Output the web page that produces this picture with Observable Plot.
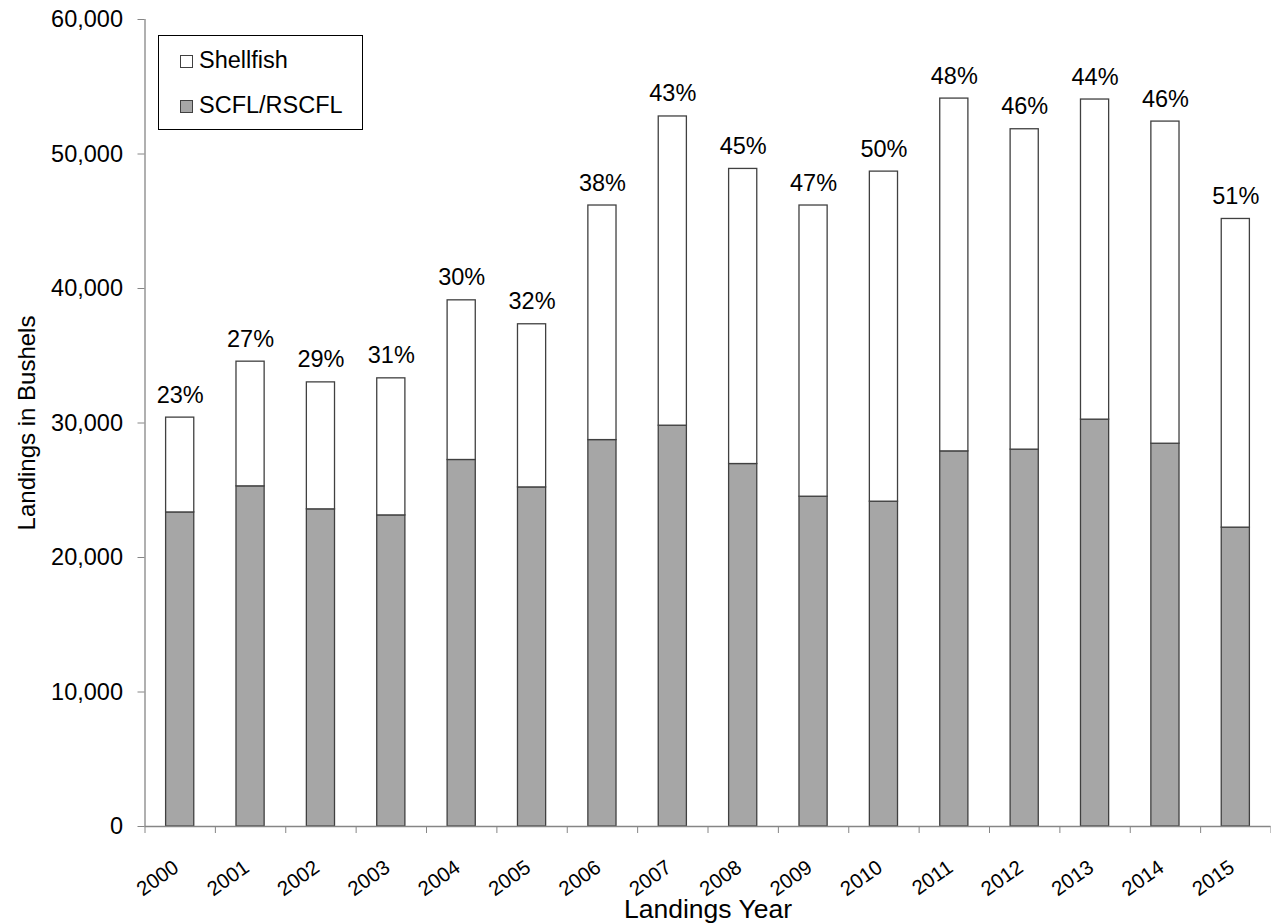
<!DOCTYPE html>
<html>
<head>
<meta charset="utf-8">
<script src="https://cdn.jsdelivr.net/npm/d3@7"></script>
<script src="https://cdn.jsdelivr.net/npm/@observablehq/plot@0.6"></script>
<style>
  html, body { margin: 0; padding: 0; background: #fff; }
  #wrap { position: relative; width: 1271px; height: 924px; font-family: "Liberation Sans", Arial, sans-serif; }
  #legend { position: absolute; left: 158px; top: 35px; width: 203px; height: 93px; border: 1px solid #000; background: #fff; }
  .item { position: absolute; left: 21px; font-size: 23.5px; line-height: 1; white-space: nowrap; color: #000; }
  .sw { display: inline-block; width: 11px; height: 11px; border: 1px solid #404040; vertical-align: baseline; margin-right: 6px; }
</style>
</head>
<body>
<div id="wrap"></div>
<script>
const years = [2000, 2001, 2002, 2003, 2004, 2005, 2006, 2007, 2008, 2009, 2010, 2011, 2012, 2013, 2014, 2015];
const scfl = [23350, 25290, 23580, 23130, 27250, 25210, 28730, 29800, 26950, 24520, 24150, 27890, 28020, 30250, 28460, 22220];
const shellfish = [7050, 9270, 9440, 10190, 11870, 12130, 17440, 22990, 21940, 21650, 24540, 26230, 23820, 23800, 23950, 22950];
const pctLabels = ["23%", "27%", "29%", "31%", "30%", "32%", "38%", "43%", "45%", "47%", "50%", "48%", "46%", "44%", "46%", "51%"];
const yTicks = [0, 10000, 20000, 30000, 40000, 50000, 60000];
const seriesNames = ["Shellfish", "SCFL/RSCFL"];
const seriesColors = ["#ffffff", "#a6a6a6"];

// table built from the arrays above
const rows = [];
years.forEach((yr, i) => {
  rows.push({year: yr, series: "SCFL/RSCFL", y1: 0, y2: scfl[i]});
  rows.push({year: yr, series: "Shellfish", y1: scfl[i], y2: scfl[i] + shellfish[i]});
});
const totals = years.map((yr, i) => ({year: yr, total: scfl[i] + shellfish[i], label: pctLabels[i]}));
const bounds = [years[0] - 0.5, ...years.map(y => y + 0.5)];
const half = 0.2;

const chart = Plot.plot({
  width: 1271,
  height: 924,
  marginLeft: 144.5,
  marginRight: 0.5,
  marginTop: 19,
  marginBottom: 98,
  style: {fontFamily: "'Liberation Sans', Arial, sans-serif", background: "#fff", color: "#000"},
  x: {type: "linear", domain: [years[0] - 0.5, years[years.length - 1] + 0.5], axis: null},
  y: {domain: [0, 60000], axis: null},
  color: {domain: seriesNames, range: seriesColors},
  marks: [
    Plot.rectY(rows, {
      x1: d => d.year - half, x2: d => d.year + half,
      y1: "y1", y2: "y2",
      fill: "series", stroke: "#404040", strokeWidth: 1.3
    }),
    Plot.ruleX([bounds[0]], {stroke: "#868686", strokeWidth: 1.3}),
    Plot.ruleY([0], {stroke: "#868686", strokeWidth: 1.3}),
    Plot.axisY({
      ticks: yTicks, tickFormat: d3.format(","), tickSize: 7, tickPadding: 15,
      fontSize: 23.5, stroke: "#868686", fill: "#000", label: null
    }),
    Plot.axisX({
      ticks: bounds, tickFormat: () => "", tickSize: 7, stroke: "#868686", label: null
    }),
    Plot.text(years, {
      x: d => d, frameAnchor: "bottom", dy: 44, rotate: -35,
      textAnchor: "end", lineAnchor: "bottom", fontSize: 20.5, text: d => String(d), fill: "#000"
    }),
    Plot.text(totals, {
      x: "year", y: "total", text: "label", dy: -15, lineAnchor: "bottom", fontSize: 23.5, fill: "#000"
    }),
    Plot.text(["Landings in Bushels"], {
      frameAnchor: "left", dx: -118, rotate: -90, textAnchor: "middle", lineAnchor: "middle",
      fontSize: 24, text: d => d, fill: "#000"
    }),
    Plot.text(["Landings Year"], {
      frameAnchor: "bottom", dy: 83, textAnchor: "middle", lineAnchor: "middle",
      fontSize: 26.5, text: d => d, fill: "#000"
    })
  ]
});

const wrap = document.getElementById("wrap");
wrap.appendChild(chart);

// legend (inside plot area, as in the reference)
const legend = document.createElement("div");
legend.id = "legend";
const tops = [12.5, 58];
seriesNames.forEach((name, i) => {
  const item = document.createElement("div");
  item.className = "item";
  item.style.top = tops[i] + "px";
  const sw = document.createElement("span");
  sw.className = "sw";
  sw.style.background = seriesColors[i];
  item.appendChild(sw);
  item.appendChild(document.createTextNode(name));
  legend.appendChild(item);
});
wrap.appendChild(legend);
</script>
</body>
</html>
